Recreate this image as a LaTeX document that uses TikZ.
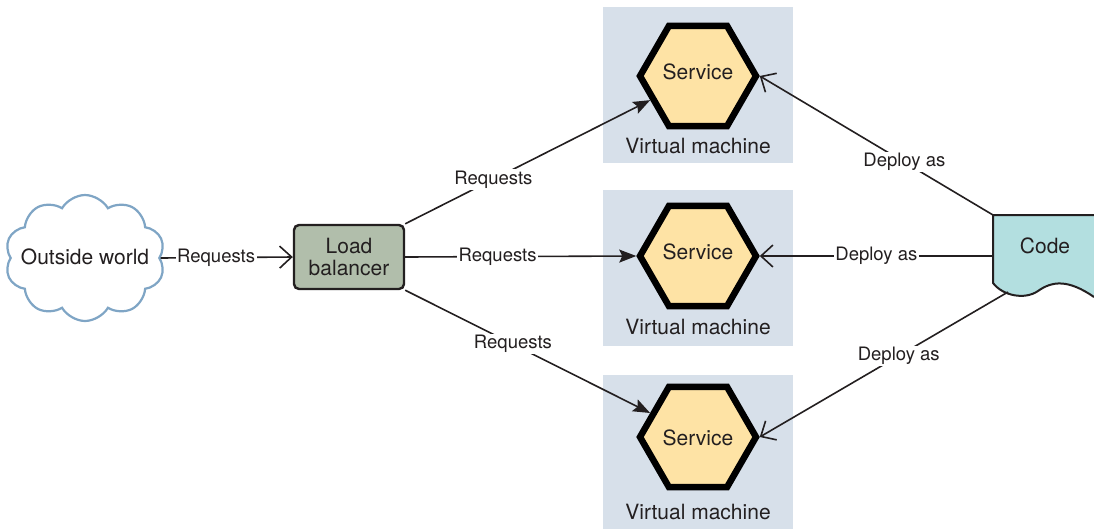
\documentclass[tikz,border=0pt]{standalone}
\usepackage{fontspec}
\setmainfont{TeX Gyre Heros}
\usetikzlibrary{shapes.geometric,shapes.symbols,arrows.meta}
\definecolor{vmbg}{HTML}{D7E0EA}
\definecolor{hexfill}{HTML}{FEE3A5}
\definecolor{lbfill}{HTML}{B1BEAB}
\definecolor{cloudline}{HTML}{7FA5C5}
\definecolor{codefill}{HTML}{B3DFE0}
\definecolor{txt}{HTML}{231F20}
\begin{document}
\begin{tikzpicture}[x=1pt,y=-1pt,
 every node/.style={font=\fontsize{21}{24}\selectfont, text=txt},
 vmbox/.style={fill=vmbg, draw=none, minimum width=190pt, minimum height=156pt, inner sep=0pt},
 hexa/.style={regular polygon, regular polygon sides=6, minimum size=116pt, inner sep=0pt, fill=hexfill, draw=black, line width=6.5pt},
 lab/.style={font=\fontsize{18.5}{21}\selectfont, fill=white, inner sep=1.5pt},
 conn/.style={line width=1.6pt, draw=txt},
 req/.style={conn, -{Stealth[length=17pt,width=13pt,inset=3pt]}},
 open/.style={conn, -{Straight Barb[length=12pt,width=22pt]}},
]
\useasboundingbox (0,0) rectangle (1094,528);
% virtual machine boxes
\node[vmbox] (vm1) at (698,85) {};
\node[vmbox] (vm2) at (698,268) {};
\node[vmbox] (vm3) at (698,453) {};
\node (vml1) at (698,146) {Virtual machine};
\node (vml2) at (698,327) {Virtual machine};
\node (vml3) at (698,512) {Virtual machine};
% services
\node[hexa] (s1) at (698,76) {};
\node[hexa] (s2) at (698,256) {};
\node[hexa] (s3) at (698,437) {};
\node (st1) at (698,72) {Service};
\node (st2) at (698,252) {Service};
\node (st3) at (698,438) {Service};
% cloud
\node[cloud, cloud puffs=10, cloud puff arc=120, aspect=1.3, draw=cloudline, line width=2.2pt, fill=white, minimum width=160pt, minimum height=126pt, inner sep=0pt] (cloud) at (85,258) {};
\node (ow) at (85,257) {Outside world};
% load balancer
\node[draw=txt, fill=lbfill, line width=2.4pt, rounded corners=5pt, minimum width=110pt, minimum height=64pt, align=center, inner sep=0pt] (lb) at (349,257) {Load\\[-2pt]balancer};
% code document
\fill[codefill] (1094,215) -- (993,215) -- (993,283) .. controls (1003,296) and (1025,300) .. (1038,291) .. controls (1052,281) and (1068,279) .. (1094,297) -- cycle;
\draw[line width=2pt, draw=txt] (1094,215) -- (993,215) -- (993,283) .. controls (1003,296) and (1025,300) .. (1038,291) .. controls (1052,281) and (1068,279) .. (1094,297);
\node (code) at (1045,246) {Code};
\coordinate (ctl) at (993,215);
\coordinate (cml) at (993,256);
\coordinate (cbl) at (1008,292);
% connectors
\draw[open] (cloud.east) -- node[lab, pos=0.42] {Requests} (lb.west);
\draw[req] (lb.north east) -- node[lab, pos=0.36] {Requests} (s1);
\draw[req] (lb.east) -- node[lab, pos=0.40] {Requests} (s2.west);
\draw[req] (lb.south east) -- node[lab, pos=0.44] {Requests} (s3);
\draw[open] (ctl) -- node[lab, pos=0.38] {Deploy as} (s1.east);
\draw[open] (cml) -- node[lab, pos=0.50] {Deploy as} (s2.east);
\draw[open] (cbl) -- node[lab, pos=0.44] {Deploy as} (s3.east);
\end{tikzpicture}
\end{document}
